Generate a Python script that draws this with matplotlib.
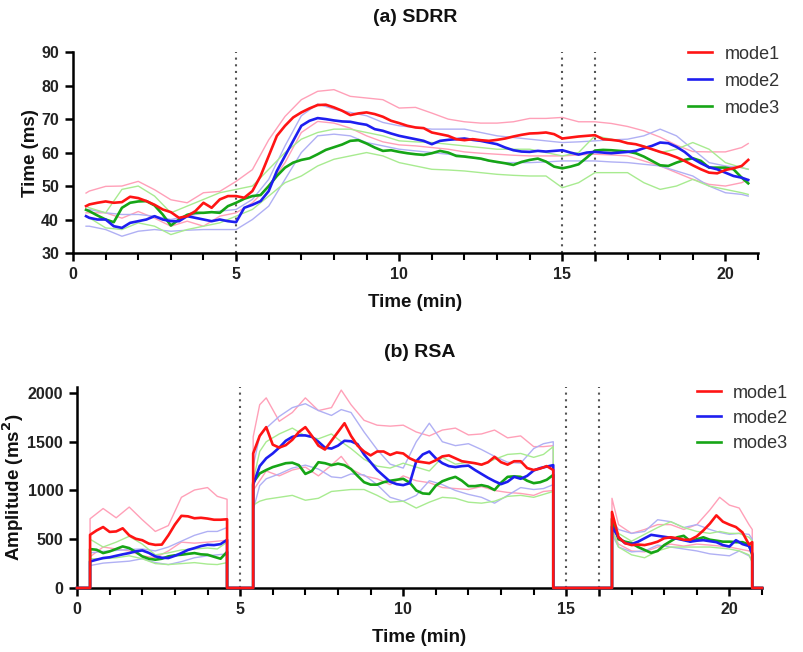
import numpy as np
import matplotlib
matplotlib.use("Agg")
import matplotlib.pyplot as plt
from matplotlib.ticker import FixedLocator

plt.rcParams['font.family'] = ['Liberation Sans', 'DejaVu Sans']

# ---------------- (a) SDRR data ----------------
T_FINE = [0.4] + [round(0.5 + 0.25 * i, 2) for i in range(81)] + [20.7]
T_COARSE = [0.4] + [round(0.5 * i, 1) for i in range(1, 42)] + [20.7]

sdrr_mode1 = [44, 44.5, 45, 45.4, 45, 45.2, 46.8, 46.4, 45.5, 44.4, 43, 42.2, 40.5, 41, 42.5, 45,
              43.5, 46, 47, 47, 46.5, 48.5, 53, 59, 65, 68, 70.5, 72, 73.2, 74.2, 74.3, 73.5,
              72.5, 71.2, 71.7, 72, 71.5, 70.7, 69.5, 68.8, 68, 67.5, 67.3, 66, 65.5, 65, 64,
              63.7, 64, 63.7, 63.5, 63.8, 64.2, 64.8, 65.3, 65.7, 65.8, 66, 65.5, 64.2, 64.5,
              64.8, 65, 65.2, 64, 63.8, 63.5, 62.8, 62.5, 61.8, 61, 60.2, 59.5, 58.6, 57.5,
              56.2, 55, 54, 53.8, 54.8, 55.3, 56, 57.8]
sdrr_mode2 = [41, 40.5, 40, 40, 38, 37.5, 39, 39.5, 40, 41, 40, 39.5, 39.5, 41, 40.5, 40,
              39.5, 40, 39.5, 39.2, 43.5, 44.4, 45.5, 48.5, 54.5, 59, 63.5, 68, 69.5, 70.3,
              70, 69.6, 69.3, 69.2, 68.7, 68.3, 67, 66.5, 65.7, 65, 64.5, 64, 63.5, 62.5,
              63.5, 63.8, 64, 64.2, 63.8, 63.5, 63, 62.5, 61.5, 60.7, 60.3, 60.2, 60.5, 60.3,
              60.5, 60.7, 60, 59.4, 60, 60.2, 60, 59.8, 60, 60.2, 60.5, 61.3, 62, 63, 62.8,
              61.7, 60.2, 58.2, 56.8, 55.6, 55, 54, 53, 52.5, 51.8]
sdrr_mode3 = [42.9, 42.5, 41.2, 40, 39.2, 43.5, 45, 45.4, 45.5, 44.2, 41.5, 38.2, 40, 41.4,
              42, 42, 42.2, 42, 44, 45, 46.2, 47, 47.3, 50, 53, 55.5, 57, 57.8, 58.3, 59.5,
              60.8, 61.6, 62.4, 63.5, 63.7, 62.7, 61.5, 60.5, 60.7, 60.2, 59.8, 59.5, 59.3,
              59.8, 60.5, 60, 59, 58.8, 58.5, 58.2, 57.6, 57.2, 56.8, 56.3, 57.2, 57.8, 58.2,
              57.3, 55.8, 55.3, 55.8, 56.5, 58.5, 60.6, 60.8, 60.7, 60.5, 60.3, 59.8, 58.8,
              57.5, 56.2, 56, 57, 57.8, 58.3, 57.5, 55.5, 55.5, 55.5, 55, 52.5, 50.8]

sdrr_mode1_hi = [47.9, 48.5, 49.9, 50, 51.4, 48.9, 45.9, 45, 48, 48.4, 51.4, 54.9, 63.8, 70.8,
                 75.8, 78.3, 78.8, 76.8, 76.3, 75.8, 73.3, 73.5, 71.8, 70, 69.2, 68.8, 68.8,
                 69.2, 70.2, 70.2, 70.5, 69.2, 69.2, 68.7, 67.8, 66.5, 64.6, 62.2, 60.3, 60.2,
                 60.2, 61.5, 62.7]
sdrr_mode1_lo = [42, 42, 42, 40.4, 42.4, 40.4, 38, 39.5, 38, 41, 42, 45, 50, 57, 66, 69.3, 68.8,
                 67.3, 65, 63.2, 62.3, 62, 61.5, 61, 60.2, 59.8, 59.5, 59.2, 59, 59, 59, 59.3,
                 59.5, 59.3, 59, 57.5, 56, 54, 52, 50.5, 50, 51, 52]
sdrr_mode2_hi = [43, 43, 42, 41.5, 41.5, 41, 40, 41, 42, 42.5, 43, 46, 52, 62, 71, 74.5, 73, 72,
                 71, 69, 68, 67.5, 67, 67, 67, 66, 65, 64.5, 64, 63.5, 63, 63.2, 63.5, 63.8, 64,
                 65, 67, 65, 61, 57, 56, 55.5, 55]
sdrr_mode2_lo = [38, 38, 37, 35, 36.5, 37, 36.5, 36.8, 37, 37, 37, 40, 44, 52, 60, 65, 65.5, 65,
                 63, 62, 61, 60.5, 60, 59.5, 59, 58, 57, 57, 57, 57.2, 57.5, 57.5, 57.5, 57.2,
                 57, 56.5, 56, 54.5, 53, 50, 48, 47.5, 47]
sdrr_mode3_hi = [44, 43.5, 42, 49, 50, 47, 42, 44, 46, 48, 49, 50, 55, 60, 64, 66, 67, 67, 66,
                 65, 63.5, 63.2, 63, 62.5, 62, 61.5, 61, 61, 61, 60, 59, 60, 65, 64, 63, 62, 60,
                 61, 63, 61, 57, 55.5, 55]
sdrr_mode3_lo = [41, 40.5, 37.5, 37, 39, 38, 35.5, 37, 38, 39, 41, 43, 47, 51, 53, 56, 58, 59,
                 60, 59, 57, 56, 55, 54.8, 54.5, 54, 53.5, 53.2, 53, 53, 49.5, 51, 54, 54, 54,
                 51, 49, 50, 52, 50, 49, 48, 47.5]

# ---------------- (b) RSA data ----------------
S1_T = [0.4, 0.6, 0.8, 1.0, 1.2, 1.4, 1.6, 1.8, 2.0, 2.2, 2.4, 2.6, 2.8, 3.0, 3.2, 3.4, 3.6,
        3.8, 4.0, 4.2, 4.4, 4.6]
S2_T = [round(5.4 + 0.2 * i, 1) for i in range(47)]
S3_T = [16.4, 16.6, 16.8, 17.0, 17.2, 17.4, 17.6, 17.8, 18.0, 18.2, 18.4, 18.6, 18.8, 19.0,
        19.2, 19.4, 19.6, 19.8, 20.0, 20.2, 20.4, 20.6, 20.7]

rsa_mode1 = [
    [545, 590, 625, 575, 580, 612, 540, 505, 490, 455, 442, 445, 540, 650, 740, 735, 715, 720,
     712, 700, 700, 705],
    [1380, 1560, 1650, 1470, 1440, 1465, 1520, 1600, 1650, 1560, 1460, 1420, 1510, 1600, 1690,
     1560, 1460, 1400, 1360, 1400, 1400, 1365, 1390, 1380, 1330, 1300, 1290, 1280, 1310, 1350,
     1360, 1330, 1300, 1290, 1280, 1265, 1290, 1345, 1290, 1265, 1300, 1300, 1230, 1210, 1225,
     1250, 1210],
    [780, 520, 460, 440, 445, 440, 455, 475, 510, 520, 510, 495, 495, 530, 590, 660, 745, 680,
     650, 625, 570, 445, 470]]
rsa_mode2 = [
    [272, 290, 307, 315, 330, 345, 358, 375, 385, 360, 324, 310, 307, 330, 358, 390, 409, 430,
     443, 440, 450, 494],
    [1060, 1250, 1330, 1380, 1440, 1510, 1550, 1565, 1565, 1550, 1500, 1440, 1430, 1460, 1510,
     1505, 1475, 1370, 1290, 1210, 1150, 1090, 1065, 1055, 1075, 1300, 1370, 1400, 1330, 1280,
     1250, 1240, 1250, 1255, 1210, 1170, 1130, 1095, 1065, 1090, 1140, 1120, 1150, 1205, 1230,
     1245, 1260],
    [630, 520, 460, 450, 475, 510, 545, 535, 525, 515, 505, 490, 475, 485, 490, 480, 470, 440,
     425, 490, 450, 430, 355]]
rsa_mode3 = [
    [399, 392, 358, 375, 400, 426, 409, 370, 324, 300, 290, 300, 324, 335, 341, 350, 358, 345,
     341, 320, 300, 370],
    [1080, 1175, 1210, 1240, 1260, 1280, 1285, 1260, 1170, 1200, 1290, 1280, 1260, 1275, 1260,
     1220, 1150, 1085, 1060, 1060, 1085, 1100, 1110, 1120, 1080, 1000, 970, 965, 1050, 1095,
     1120, 1140, 1100, 1045, 1045, 1055, 1040, 1005, 1080, 1140, 1145, 1140, 1100, 1075, 1085,
     1110, 1160],
    [710, 500, 475, 460, 420, 390, 360, 380, 440, 480, 520, 535, 480, 500, 520, 495, 485, 475,
     475, 470, 470, 445, 340]]

B1_T = [0.4, 0.8, 1.2, 1.6, 2.0, 2.4, 2.8, 3.2, 3.6, 4.0, 4.3, 4.6]
B2_T = [5.4, 5.6, 5.8, 6.2, 6.6, 7.0, 7.4, 7.8, 8.1, 8.4, 8.8, 9.2, 9.6, 10.0, 10.4, 10.8, 11.2,
        11.6, 12.0, 12.4, 12.8, 13.2, 13.6, 14.0, 14.3, 14.6]
B3_T = [16.4, 16.6, 17.0, 17.4, 17.8, 18.2, 18.6, 19.0, 19.4, 19.7, 20.0, 20.3, 20.6, 20.7]

rsa_mode1_hi = [
    [710, 815, 720, 830, 700, 580, 640, 930, 1005, 1030, 940, 910],
    [1550, 1880, 1950, 1710, 1800, 1950, 1820, 1850, 2030, 1880, 1720, 1670, 1660, 1670, 1600,
     1560, 1620, 1640, 1570, 1580, 1620, 1540, 1560, 1450, 1450, 1460],
    [920, 650, 560, 600, 650, 650, 600, 650, 800, 930, 850, 820, 650, 600]]
rsa_mode1_lo = [
    [320, 420, 400, 380, 330, 310, 380, 470, 460, 470, 480, 490],
    [1000, 1100, 1200, 1150, 1210, 1240, 1150, 1260, 1350, 1220, 1150, 1120, 1060, 1150, 1100,
     1080, 1030, 1020, 1010, 1040, 1000, 980, 970, 950, 990, 1000],
    [600, 450, 380, 370, 420, 450, 430, 450, 440, 430, 420, 400, 380, 350]]
rsa_mode2_hi = [
    [360, 375, 385, 395, 400, 380, 420, 480, 540, 580, 580, 620],
    [1250, 1560, 1640, 1760, 1850, 1890, 1820, 1770, 1830, 1800, 1600, 1420, 1270, 1230, 1500,
     1690, 1500, 1460, 1480, 1420, 1350, 1290, 1280, 1430, 1480, 1500],
    [700, 600, 560, 580, 700, 680, 620, 650, 600, 570, 550, 560, 550, 500]]
rsa_mode2_lo = [
    [230, 255, 265, 275, 300, 260, 240, 270, 310, 330, 340, 350],
    [800, 1050, 1120, 1170, 1230, 1260, 1220, 1140, 1130, 1170, 1160, 1060, 930, 890, 950, 1100,
     1060, 1000, 960, 930, 870, 950, 1030, 1010, 1020, 1060],
    [550, 420, 370, 380, 440, 420, 400, 380, 350, 340, 330, 380, 330, 280]]
rsa_mode3_hi = [
    [500, 420, 470, 530, 450, 340, 360, 390, 400, 410, 400, 470],
    [1100, 1400, 1500, 1580, 1640, 1560, 1530, 1580, 1500, 1430, 1320, 1250, 1230, 1280, 1240,
     1200, 1340, 1270, 1290, 1260, 1320, 1370, 1380, 1340, 1370, 1450],
    [680, 560, 480, 550, 620, 680, 620, 580, 560, 580, 560, 560, 520, 480]]
rsa_mode3_lo = [
    [300, 300, 310, 330, 300, 250, 240, 250, 260, 245, 240, 260],
    [850, 890, 910, 930, 950, 900, 920, 990, 1000, 1010, 1010, 950, 880, 890, 820, 880, 930, 920,
     880, 870, 890, 940, 950, 930, 960, 990],
    [600, 420, 340, 310, 380, 420, 420, 420, 420, 410, 400, 380, 340, 260]]

MARKERS_A = [5, 15, 16]
MARKERS_B = [5, 15, 16]
LABELS = ['mode1', 'mode2', 'mode3']

# ---------------- styling ----------------
C_MAIN = ['#ff1414', '#1e1ef0', '#16a516']
C_LIGHT = ['#ffa0b8', '#b0b0f4', '#a8eb90']
LW_MAIN = 1.9
LW_LIGHT = 1.0


def zero_padded(grids, segs, x_end=21.0):
    xs, ys = [0.0], [0.0]
    for g, s in zip(grids, segs):
        xs += [g[0]] + list(g) + [g[-1]]
        ys += [0.0] + list(s) + [0.0]
    xs.append(x_end)
    ys.append(0.0)
    return xs, ys


def style_axes(ax, ylim, yticks):
    ax.set_xlim(0, 21)
    ax.set_ylim(*ylim)
    for s in ['top', 'right']:
        ax.spines[s].set_visible(False)
    for s in ['left', 'bottom']:
        ax.spines[s].set_linewidth(1.8)
    ax.xaxis.set_major_locator(FixedLocator([0, 5, 10, 15, 16, 20]))
    ax.set_xticklabels(['0', '5', '10', '15', '', '20'])
    ax.xaxis.set_minor_locator(FixedLocator([1, 2, 3, 4, 6, 7, 8, 9, 11, 12, 13, 14, 17, 18, 19, 21]))
    ax.set_yticks(yticks)
    ax.tick_params(which='major', direction='out', length=6, width=1.8, labelsize=11.5, pad=4)
    ax.tick_params(which='minor', direction='out', length=5, width=1.5)
    for lab in ax.get_xticklabels() + ax.get_yticklabels():
        lab.set_fontweight('bold')
        lab.set_color('#222222')


fig = plt.figure(figsize=(8.04, 6.52), dpi=100)

# ---- top ----
ax1 = fig.add_axes([0.0908, 0.612, 0.852, 0.308])
for c, hi, lo in zip(C_LIGHT, [sdrr_mode1_hi, sdrr_mode2_hi, sdrr_mode3_hi],
                     [sdrr_mode1_lo, sdrr_mode2_lo, sdrr_mode3_lo]):
    ax1.plot(T_COARSE, hi, color=c, lw=LW_LIGHT, zorder=2)
    ax1.plot(T_COARSE, lo, color=c, lw=LW_LIGHT, zorder=2)
lines_a = []
for c, m, lab, z in zip(C_MAIN, [sdrr_mode1, sdrr_mode2, sdrr_mode3], LABELS, [5, 4, 3]):
    ln, = ax1.plot(T_FINE, m, color=c, lw=LW_MAIN, label=lab, zorder=z)
    lines_a.append(ln)
for xm in MARKERS_A:
    ax1.axvline(xm, color='#555555', lw=1.5, ls=(0, (1, 2.2)), zorder=1)
style_axes(ax1, (30, 90), [30, 40, 50, 60, 70, 80, 90])
ax1.set_title('(a) SDRR', fontsize=14, fontweight='bold', pad=22, color='#111111')
ax1.set_xlabel('Time (min)', fontsize=13.5, fontweight='bold', labelpad=9, color='#111111')
ax1.set_ylabel('Time (ms)', fontsize=13.5, fontweight='bold', color='#111111')
ax1.yaxis.set_label_coords(-0.05, 0.5)
fig.legend(handles=lines_a, loc='upper left', bbox_to_anchor=(0.856, 0.93),
           bbox_transform=fig.transFigure, frameon=False, fontsize=13, borderpad=0,
           borderaxespad=0, handlelength=1.3, handletextpad=0.7, labelspacing=0.55,
           labelcolor='#333333')

# ---- bottom ----
ax2 = fig.add_axes([0.0958, 0.0982, 0.852, 0.308])
bgrids = [B1_T, B2_T, B3_T]
mgrids = [S1_T, S2_T, S3_T]
for c, hi, lo in zip(C_LIGHT, [rsa_mode1_hi, rsa_mode2_hi, rsa_mode3_hi],
                     [rsa_mode1_lo, rsa_mode2_lo, rsa_mode3_lo]):
    x, y = zero_padded(bgrids, hi)
    ax2.plot(x, y, color=c, lw=LW_LIGHT, zorder=2, clip_on=False)
    x, y = zero_padded(bgrids, lo)
    ax2.plot(x, y, color=c, lw=LW_LIGHT, zorder=2, clip_on=False)
lines_b = []
for c, m, lab, z in zip(C_MAIN, [rsa_mode1, rsa_mode2, rsa_mode3], LABELS, [5, 4, 3]):
    x, y = zero_padded(mgrids, m)
    ln, = ax2.plot(x, y, color=c, lw=LW_MAIN, label=lab, zorder=z, clip_on=False)
    lines_b.append(ln)
for xm in MARKERS_B:
    ax2.axvline(xm, color='#555555', lw=1.5, ls=(0, (1, 2.2)), zorder=1)
style_axes(ax2, (0, 2060), [0, 500, 1000, 1500, 2000])
ax2.set_title('(b) RSA', fontsize=14, fontweight='bold', pad=22, color='#111111')
ax2.set_xlabel('Time (min)', fontsize=13.5, fontweight='bold', labelpad=9, color='#111111')
ax2.set_ylabel(r'Amplitude (ms$^{\mathbf{2}}$)', fontsize=13.5, fontweight='bold',
               color='#111111')
ax2.yaxis.set_label_coords(-0.074, 0.5)
fig.legend(handles=lines_b, loc='upper left', bbox_to_anchor=(0.867, 0.41),
           bbox_transform=fig.transFigure, frameon=False, fontsize=13, borderpad=0,
           borderaxespad=0, handlelength=1.3, handletextpad=0.7, labelspacing=0.45,
           labelcolor='#333333')

fig.savefig('out.png', dpi=100)
